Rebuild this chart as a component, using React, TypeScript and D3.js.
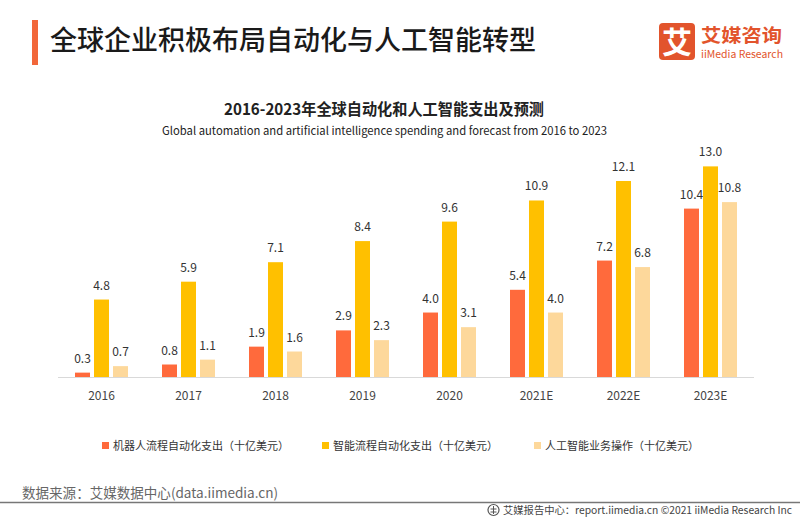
import React from "react";
import * as d3 from "d3";

const categories = ["2016", "2017", "2018", "2019", "2020", "2021E", "2022E", "2023E"];
const seriesNames = [
  "机器人流程自动化支出（十亿美元）",
  "智能流程自动化支出（十亿美元）",
  "人工智能业务操作（十亿美元）",
];
const rpaValues = [0.3, 0.8, 1.9, 2.9, 4.0, 5.4, 7.2, 10.4];
const ipaValues = [4.8, 5.9, 7.1, 8.4, 9.6, 10.9, 12.1, 13.0];
const aiOpsValues = [0.7, 1.1, 1.6, 2.3, 3.1, 4.0, 6.8, 10.8];
const seriesValues = [rpaValues, ipaValues, aiOpsValues];
const colors = ["#FF6A3C", "#FFC000", "#FDD89B"];

const mainTitle = "全球企业积极布局自动化与人工智能转型";
const chartTitle = "2016-2023年全球自动化和人工智能支出及预测";
const chartSubtitle = "Global automation and artificial intelligence spending and forecast from 2016 to 2023";
const sourceText = "数据来源：艾媒数据中心(data.iimedia.cn)";
const footerText = "艾媒报告中心：report.iimedia.cn   ©2021  iiMedia Research Inc";

const FONT = "'Noto Sans CJK SC', 'Noto Sans', sans-serif";

export default function App() {
  const W = 800;
  const H = 520;
  const axisY = 377.5;
  const x0 = d3.scaleBand<string>().domain(categories).range([58, 754]).padding(0);
  const x1 = d3
    .scaleBand<number>()
    .domain([0, 1, 2])
    .range([17, 70])
    .paddingInner(4 / 19)
    .paddingOuter(0);
  const y = d3.scaleLinear().domain([0, 14]).range([axisY, axisY - 14 * 16.24]);
  const legendX = [102, 322, 534];

  return (
    <svg
      width={W}
      height={H}
      style={{ position: "absolute", left: 0, top: 0, background: "#fff", fontFamily: FONT }}
    >
      <rect x={0} y={0} width={W} height={H} fill="#fff" />
      {/* header */}
      <rect x={32} y={20} width={6} height={45} fill="#F2673A" />
      <text x={50} y={50} fontSize={27} fontWeight={500} fill="#1a1a1a">
        {mainTitle}
      </text>
      {/* logo */}
      <rect x={659} y={23} width={36} height={37} rx={4} fill="#E2542C" />
      <text x={677} y={53} fontSize={30} fontWeight={700} fill="#fff" textAnchor="middle">
        艾
      </text>
      <text x={701} y={42} fontSize={18.5} fontWeight={700} fill="#E2542C" textLength={81} lengthAdjust="spacingAndGlyphs">
        艾媒咨询
      </text>
      <text x={701} y={57.5} fontSize={10.5} fill="#E2542C" textLength={82} lengthAdjust="spacingAndGlyphs">
        iiMedia Research
      </text>

      {/* chart titles */}
      <text x={224} y={115} fontSize={16} fontWeight={700} fill="#222" textLength={320} lengthAdjust="spacingAndGlyphs">
        {chartTitle}
      </text>
      <text x={162} y={134.5} fontSize={11.5} fill="#222" textLength={445} lengthAdjust="spacingAndGlyphs">
        {chartSubtitle}
      </text>

      {/* bars */}
      {categories.map((c, i) => (
        <g key={c} transform={`translate(${x0(c)},0)`}>
          {seriesValues.map((vals, s) => (
            <g key={s}>
              <rect
                x={x1(s)}
                y={y(vals[i])}
                width={x1.bandwidth()}
                height={axisY - y(vals[i])}
                fill={colors[s]}
              />
              <text
                x={(x1(s) as number) + x1.bandwidth() / 2}
                y={y(vals[i]) - 10}
                fontSize={12}
                fill="#333"
                textAnchor="middle"
              >
                {vals[i].toFixed(1)}
              </text>
            </g>
          ))}
          <text
            x={x0.bandwidth() / 2}
            y={400}
            fontSize={12}
            fill="#444"
            textAnchor="middle"
          >
            {c}
          </text>
        </g>
      ))}
      <line x1={58} x2={754} y1={axisY} y2={axisY} stroke="#d9d9d9" strokeWidth={1} />

      {/* legend */}
      {seriesNames.map((n, s) => (
        <g key={n}>
          <rect x={legendX[s]} y={442} width={7} height={7} fill={colors[s]} />
          <text x={legendX[s] + 11} y={450} fontSize={11} fill="#333">
            {n}
          </text>
        </g>
      ))}

      {/* footer */}
      <text x={22} y={498} fontSize={13.5} fill="#666" textLength={256} lengthAdjust="spacingAndGlyphs">
        {sourceText}
      </text>
      <line x1={0} x2={800} y1={502.5} y2={502.5} stroke="#777" strokeWidth={1.5} />
      <g transform="translate(493.5,510)">
        <circle r={5.5} fill="none" stroke="#555" strokeWidth={1.2} />
        <path d="M-3,-1 L3,-1 M0,-4 L0,4 M-3,2 L3,2" stroke="#555" strokeWidth={1} />
      </g>
      <text x={503} y={514} fontSize={10.5} fill="#444" textLength={289} lengthAdjust="spacingAndGlyphs">
        {footerText}
      </text>
    </svg>
  );
}
